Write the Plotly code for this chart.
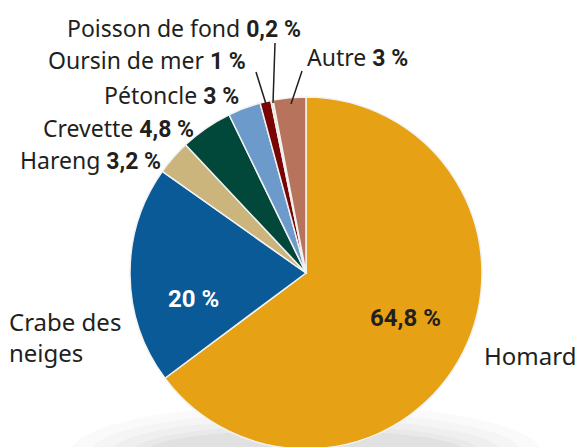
import plotly.graph_objects as go

categories = ["Homard", "Crabe des neiges", "Hareng", "Crevette", "Pétoncle",
              "Oursin de mer", "Poisson de fond", "Autre"]
values = [64.8, 20, 3.2, 4.8, 3, 1, 0.2, 3]
value_labels = ["64,8 %", "20 %", "3,2 %", "4,8 %", "3 %", "1 %", "0,2 %", "3 %"]
colors = ["#E6A114", "#0A5A98", "#CBB57D", "#01483B", "#6C9BCB",
          "#780404", "#E4D6B6", "#B8735C"]

W, H = 577, 451
FONT = "Noto Sans"
BOLD = "Liberation Sans Narrow, Roboto"
TXT = "#231F20"

fig = go.Figure()

# soft shadow under the pie
for rx, ry, a in [(235, 48, 0.018), (215, 40, 0.02), (195, 33, 0.022),
                  (175, 27, 0.025), (160, 22, 0.03)]:
    fig.add_shape(type="circle", xref="paper", yref="paper",
                  x0=(306 - rx) / W, x1=(306 + rx) / W,
                  y0=(H - 452 - ry) / H, y1=(H - 452 + ry) / H,
                  fillcolor=f"rgba(0,0,0,{a})", line=dict(width=0), layer="below")

fig.add_trace(go.Pie(
    labels=categories, values=values, sort=False, direction="clockwise",
    rotation=0, textinfo="none", hoverinfo="label+percent",
    marker=dict(colors=colors, line=dict(color="#F2F2F2", width=1.5)),
    domain=dict(x=[130 / W, 482 / W], y=[2 / H, 354 / H]),
    showlegend=False,
))

def lab(name, val):
    return f"{name} <b><span style='font-family:{BOLD}'>{val}</span></b>"

ann = []
def add(text, x, y, xanchor="left", color=TXT, size=23, family=FONT):
    ann.append(dict(text=text, x=x / W, y=1 - y / H, xref="paper", yref="paper",
                    xanchor=xanchor, yanchor="middle", showarrow=False,
                    font=dict(family=family, size=size, color=color), align="left",
                    borderpad=0))

add(lab("Poisson de fond", value_labels[6]), 302, 28, "right")
add(lab("Oursin de mer", value_labels[5]), 247, 60, "right")
add(lab("Autre", value_labels[7]), 306, 57, "left")
add(lab("Pétoncle", value_labels[4]), 240, 95, "right")
add(lab("Crevette", value_labels[3]), 195, 128, "right")
add(lab("Hareng", value_labels[2]), 162, 160, "right")
add("Crabe des<br>neiges", 8, 337, "left", size=24)
add(categories[0], 483, 355, "left", size=24)
add(f"<b>{value_labels[1]}</b>", 193, 299, "center", "white", 24, BOLD)
add(f"<b>{value_labels[0]}</b>", 405, 318, "center", TXT, 24, BOLD)

for (x0, y0, x1, y1) in [(256, 72, 266, 104), (275, 43, 273, 103), (302, 71, 291, 104)]:
    fig.add_shape(type="line", xref="paper", yref="paper",
                  x0=x0 / W, y0=1 - y0 / H, x1=x1 / W, y1=1 - y1 / H,
                  line=dict(color=TXT, width=1.5))

fig.update_layout(width=W, height=H, margin=dict(l=0, r=0, t=0, b=0),
                  paper_bgcolor="white", plot_bgcolor="white", annotations=ann)

fig.write_html("out.html", config={"displayModeBar": False}, post_script=(
    "document.body.style.margin='0';"
    "document.body.style.overflow='hidden';"
    "document.documentElement.style.overflow='hidden';"))
